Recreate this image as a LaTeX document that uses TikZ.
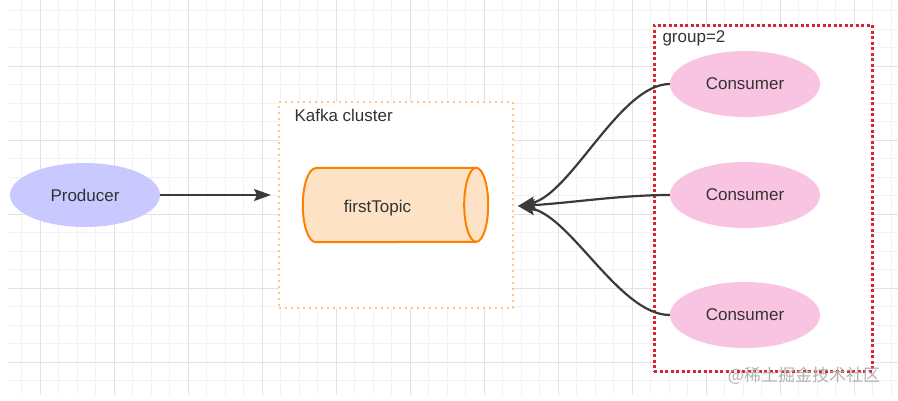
\documentclass[tikz,border=0pt]{standalone}
\usepackage{fontspec}
\setmainfont{Liberation Sans}
\newfontfamily\cjk{Noto Sans CJK SC}
\usetikzlibrary{shapes.geometric, arrows.meta, positioning}
\definecolor{gridminor}{HTML}{F2F2F2}
\definecolor{gridmajor}{HTML}{E2E2E2}
\definecolor{textgray}{HTML}{333333}
\definecolor{linegray}{HTML}{3A3A3A}
\definecolor{prodfill}{HTML}{C9C9FF}
\definecolor{consfill}{HTML}{F8C4E2}
\definecolor{topicfill}{HTML}{FDE2C6}
\definecolor{topicline}{HTML}{FF8000}
\definecolor{clusterline}{HTML}{FFC48C}
\definecolor{groupline}{HTML}{DA2430}
\begin{document}
\begin{tikzpicture}[x=1pt, y=-1pt,
	every node/.style={font=\fontsize{17}{20}\selectfont, text=textgray},
	client/.style={ellipse, inner sep=0pt, minimum width=150pt},
	link/.style={linegray, line width=2.2pt, -{Stealth[length=17pt, width=12pt, inset=3pt]}},
	dotbox/.style={rectangle, inner sep=0pt, line width=2pt}]
	\useasboundingbox (0,0) rectangle (898,400);
	\begin{scope}
		\clip (8,0) rectangle (898,395);
		\foreach \i in {0,...,47}
			\draw[gridminor, line width=0.8pt] (21.5+18.5*\i,0) -- (21.5+18.5*\i,395);
		\foreach \i in {0,...,21}
			\draw[gridminor, line width=0.8pt] (8,10.5+18.5*\i) -- (898,10.5+18.5*\i);
		\foreach \i in {0,...,11}
			\draw[gridmajor, line width=0.8pt] (40+74*\i,0) -- (40+74*\i,395);
		\foreach \i in {0,...,4}
			\draw[gridmajor, line width=0.8pt] (8,66+74*\i) -- (898,66+74*\i);
	\end{scope}

	\node[dotbox, draw=clusterline, fill=white, dash pattern=on 2pt off 4pt, minimum width=234pt, minimum height=206pt] (cluster) at (396,205) {};
	\node[anchor=west] (clusterlabel) at (291,115) {Kafka cluster};
	\node[dotbox, draw=groupline, fill=white, dash pattern=on 3pt off 2.5pt, line width=3pt, minimum width=218pt, minimum height=346pt] (group) at (763,198) {};
	\node[anchor=west] (grouplabel) at (659,38) {group=2};

	\node[client, fill=prodfill, minimum height=64pt] (producer) at (85,195) {Producer};
	\node[inner sep=0pt, minimum width=185pt, minimum height=74pt] (topic) at (395.5,205) {};
	\filldraw[draw=topicline, fill=topicfill, line width=2pt]
		([xshift=13pt]topic.north west) -- ([xshift=-12pt]topic.north east)
		arc[start angle=90, end angle=-90, x radius=12pt, y radius=37pt]
		-- ([xshift=13pt]topic.south west)
		arc[start angle=270, end angle=90, x radius=13pt, y radius=37pt] -- cycle;
	\draw[topicline, line width=2pt] ([xshift=-12pt]topic.north east)
		arc[start angle=90, end angle=270, x radius=12pt, y radius=37pt];
	\node (topiclabel) at ([xshift=-18pt, yshift=-3pt]topic.center) {firstTopic};

	\node[client, fill=consfill, minimum height=66pt] (cons1) at (745,84) {Consumer};
	\node[client, fill=consfill, minimum height=66pt] (cons2) at (745,195) {Consumer};
	\node[client, fill=consfill, minimum height=66pt] (cons3) at (745,315) {Consumer};

	\draw[link] (producer.east) -- ([xshift=-7pt]producer.east -| cluster.west);
	\coordinate (tip) at ([xshift=4pt,yshift=-1pt]cluster.east);
	\draw[link] (cons1.west) .. controls +(-50,0) and +(53,-11) .. (tip);
	\draw[link] (cons2.west) .. controls +(-50,0) and +(53,-3) .. (tip);
	\draw[link] (cons3.west) .. controls +(-50,0) and +(53,10) .. (tip);

	\node[text=black!30, font=\cjk\fontsize{17}{20}\selectfont] (mark) at (804,376) {@稀土掘金技术社区};
\end{tikzpicture}
\end{document}
